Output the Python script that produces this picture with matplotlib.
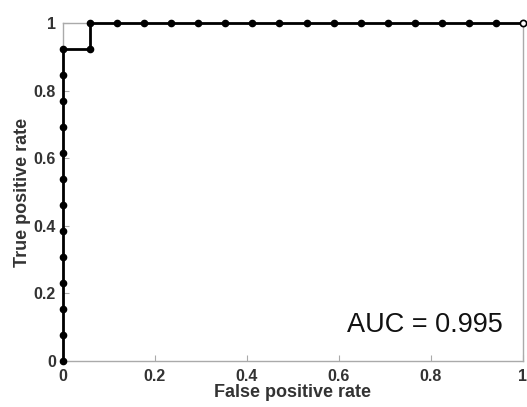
import numpy as np
import matplotlib
matplotlib.use("Agg")
import matplotlib.pyplot as plt

# ROC points: 13 positives, 17 negatives
n_pos = 13
n_neg = 17
fpr = [0.0] * 13 + [1 / 17] + [k / 17 for k in range(1, 18)]
tpr = [k / 13 for k in range(13)] + [12 / 13] + [1.0] * 17
auc_text = "AUC = 0.995"

xticks = [0, 0.2, 0.4, 0.6, 0.8, 1]
yticks = [0, 0.2, 0.4, 0.6, 0.8, 1]
ticklabels = ["0", "0.2", "0.4", "0.6", "0.8", "1"]

plt.rcParams['font.family'] = ['Liberation Sans', 'DejaVu Sans']

fig = plt.figure(figsize=(5.27, 4.07), dpi=100)
ax = fig.add_axes([0.1195, 0.113, 0.8729, 0.8305])

ax.plot(fpr[:-1], tpr[:-1], color='black', lw=2, marker='o', ms=4.5, clip_on=False, zorder=3)
ax.plot(fpr[-2:], tpr[-2:], color='black', lw=2, clip_on=False, zorder=3)
ax.plot(fpr[-1], tpr[-1], marker='o', ms=4.5, mfc='white', mec='black', mew=1.2, clip_on=False, zorder=4)

ax.set_xlim(0, 1)
ax.set_ylim(0, 1)
ax.set_xticks(xticks)
ax.set_yticks(yticks)
ax.set_xticklabels(ticklabels, fontsize=11.5, fontweight='bold', color='#333333')
ax.set_yticklabels(ticklabels, fontsize=11.5, fontweight='bold', color='#333333')
ax.tick_params(axis='x', direction='in', length=4, color='#aaaaaa', pad=6)
ax.tick_params(axis='y', direction='in', length=4, color='#aaaaaa', pad=5)

for s in ax.spines.values():
    s.set_color('#aaaaaa')
    s.set_linewidth(1)

ax.set_xlabel("False positive rate", fontsize=13, fontweight='bold', color='#333333', labelpad=0)
ax.set_ylabel("True positive rate", fontsize=13, fontweight='bold', color='#333333', labelpad=2)

ax.text(0.955, 0.085, auc_text, transform=ax.transAxes, ha='right', va='baseline',
        fontsize=19.5, color='#111111')

fig.savefig("out.png", dpi=100)
